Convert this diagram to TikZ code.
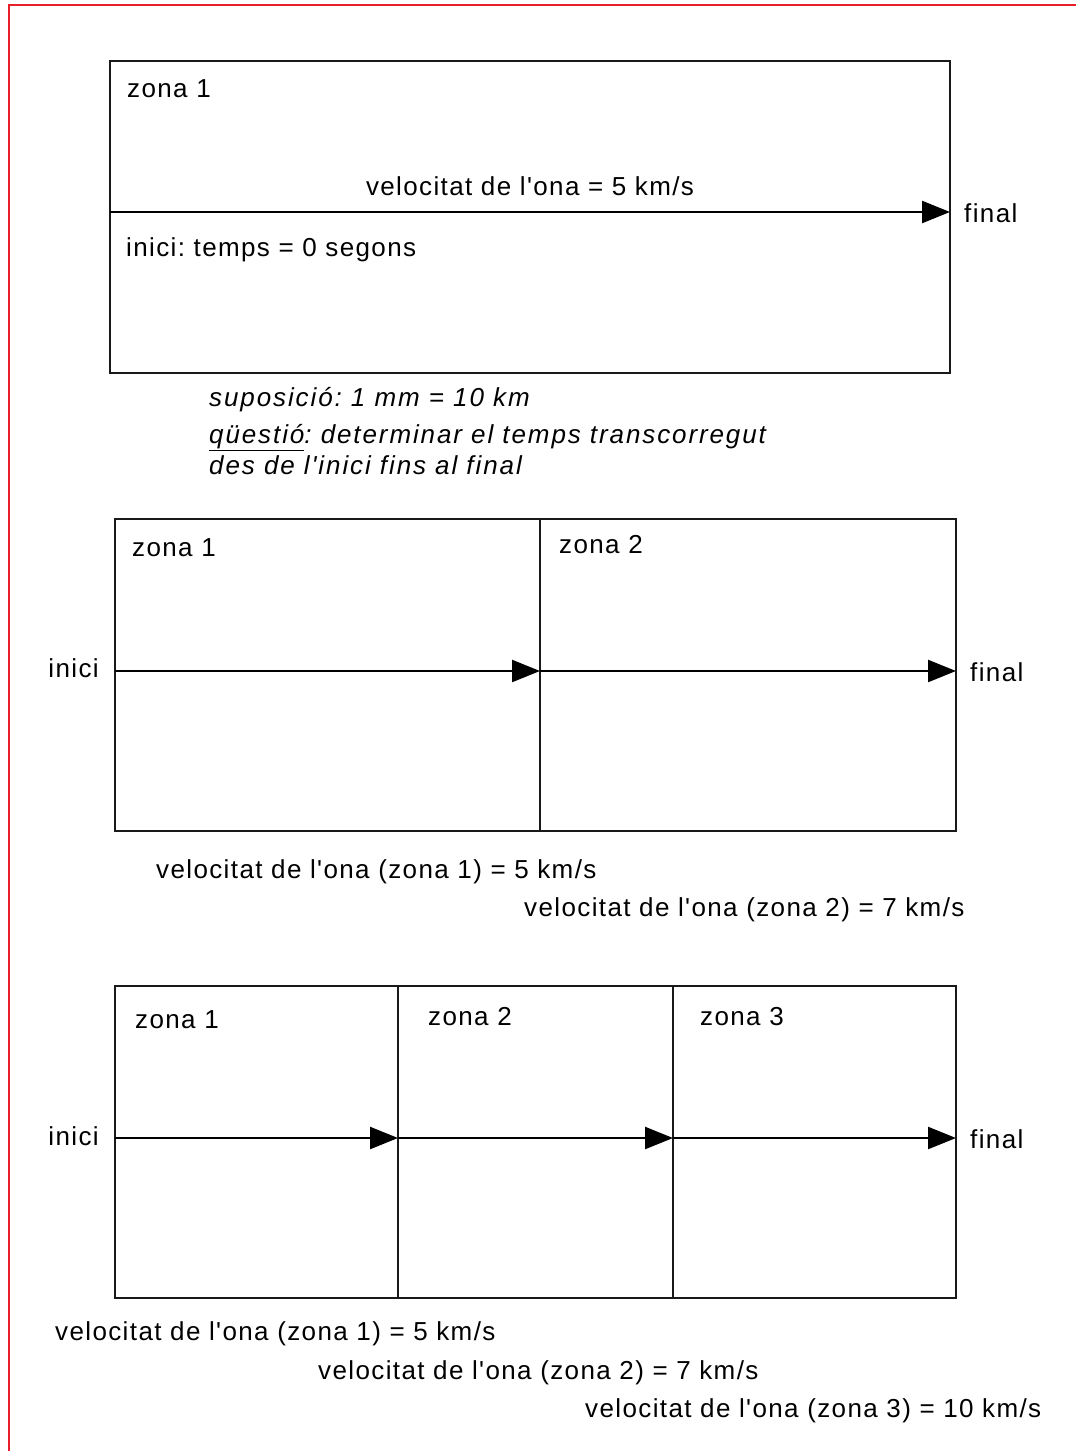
\documentclass[tikz,border=0pt]{standalone}
\usepackage{fontspec}
\setmainfont{Liberation Sans}[Ligatures=TeXOff,LetterSpace=5.3]
\newfontfamily\itfam{Liberation Sans}[Ligatures=TeXOff,LetterSpace=7.3]
\usetikzlibrary{arrows.meta}
\begin{document}
\frenchspacing
\begin{tikzpicture}[x=1pt,y=-1pt,
  lbl/.style={inner sep=0pt,anchor=base west,font=\fontsize{26}{31}\selectfont},
  lblr/.style={inner sep=0pt,anchor=base east,font=\fontsize{26}{31}\selectfont},
  itl/.style={inner sep=0pt,anchor=base west,font=\fontsize{26}{31}\itfam\itshape},
  boxline/.style={line width=2.4pt,draw=black!90},
  wave/.style={line width=2.4pt,-{Triangle[length=28pt,width=22pt]}}]
\useasboundingbox (0,0) rectangle (1076,1451);
% red frame
\draw[line width=2pt,draw={rgb,255:red,232;green,30;blue,40}] (8.5,1451) -- (8.5,4.5) -- (1076,4.5);

% ---------- box 1 ----------
\draw[boxline] (110,61) rectangle (950,373);
\coordinate (s1) at (110,212);
\coordinate (e1) at (950,212);
\draw[wave] (s1) -- (e1);
\node[lbl] (z11) at (127,97) {zona 1};
\node[lbl,anchor=base] (v1) at (530,195) {velocitat de l'ona = 5 km/s};
\node[lbl] (ini1) at (126,256) {inici: temps = 0 segons};
\node[lbl] (fin1) at (964,222) {final};
\node[itl] (sup) at (209,406) {suposició: 1 mm = 10 km};
\node[itl] (q) at (209,443) {\underline{qüestió}: determinar el temps transcorregut};
\node[itl] (q2) at (209,474) {des de l'inici fins al final};

% ---------- box 2 ----------
\draw[boxline] (115,519) rectangle (956,831);
\draw[boxline] (540,519) -- (540,831);
\coordinate (s2) at (115,671);
\coordinate (m2) at (540,671);
\coordinate (e2) at (956,671);
\draw[wave] (s2) -- (m2);
\draw[wave] (m2) -- (e2);
\node[lbl] (z21) at (132,556) {zona 1};
\node[lbl] (z22) at (559,553) {zona 2};
\node[lblr] (ini2) at (99,677) {inici};
\node[lbl] (fin2) at (970,681) {final};
\node[lbl] (v21) at (156,878) {velocitat de l'ona (zona 1) = 5 km/s};
\node[lbl] (v22) at (524,916) {velocitat de l'ona (zona 2) = 7 km/s};

% ---------- box 3 ----------
\draw[boxline] (115,986) rectangle (956,1298);
\draw[boxline] (398,986) -- (398,1298);
\draw[boxline] (673,986) -- (673,1298);
\coordinate (s3) at (115,1138);
\coordinate (m31) at (398,1138);
\coordinate (m32) at (673,1138);
\coordinate (e3) at (956,1138);
\draw[wave] (s3) -- (m31);
\draw[wave] (m31) -- (m32);
\draw[wave] (m32) -- (e3);
\node[lbl] (z31) at (135,1028) {zona 1};
\node[lbl] (z32) at (428,1025) {zona 2};
\node[lbl] (z33) at (700,1025) {zona 3};
\node[lblr] (ini3) at (99,1145) {inici};
\node[lbl] (fin3) at (970,1148) {final};
\node[lbl] (v31) at (55,1340) {velocitat de l'ona (zona 1) = 5 km/s};
\node[lbl] (v32) at (318,1379) {velocitat de l'ona (zona 2) = 7 km/s};
\node[lbl] (v33) at (585,1417) {velocitat de l'ona (zona 3) = 10 km/s};
\end{tikzpicture}
\end{document}
